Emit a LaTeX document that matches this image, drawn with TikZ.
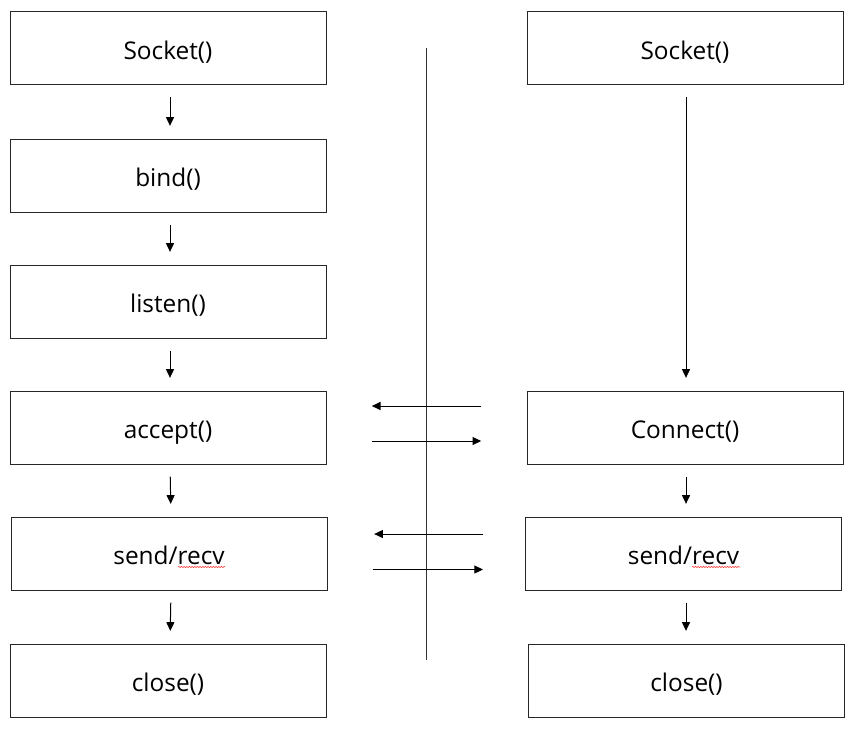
\documentclass[tikz,border=0pt]{standalone}
\usepackage{fontspec}
\setmainfont{Open Sans}
\usetikzlibrary{arrows.meta,calc,decorations.pathmorphing}
\begin{document}
\begin{tikzpicture}[x=0.75pt,y=-0.75pt,
  box/.style={draw=black!85,line width=0.75pt,minimum width=237pt,minimum height=54.75pt,inner sep=0pt,text height=18pt,text depth=1.5pt,font=\fontsize{18.3}{21}\selectfont},
  arr/.style={line width=0.75pt,-{Triangle[length=6.5pt,width=6pt]}},
  vgap/.style={shorten <=9pt,shorten >=9.5pt},
  hgap/.style={shorten <=34pt,shorten >=34pt},
  squig/.style={red!80,line width=0.4pt,decorate,decoration={snake,amplitude=0.5pt,segment length=2pt}}]
\useasboundingbox (0,0) rectangle (860,733);
\node[box] (ls) at (168,48) {Socket()};
\node[box] (lb) at (168,175.5) {bind()};
\node[box] (ll) at (168,301.5) {listen()};
\node[box] (la) at (168,427.5) {accept()};
\node[box] (lr) at (169,553.5) {send/recv};
\node[box] (lc) at (168,680.5) {close()};
\node[box] (rs) at (685,48) {Socket()};
\node[box] (rc) at (685,427.5) {Connect()};
\node[box] (rr) at (683.5,553.5) {send/recv};
\node[box] (rx) at (686.5,680.5) {close()};
\coordinate (mt) at (426,48);
\coordinate (mb) at (426,660);
\draw[black!80,line width=0.75pt] (mt) -- (mb);
\foreach \a/\b in {ls/lb,lb/ll,ll/la,la/lr,lr/lc}{
  \draw[arr,vgap] ($(\a.south)+(2,0)$) -- ($(\b.north)+(2,0)$);
}
\draw[arr,vgap] ($(rs.south)+(1,0)$) -- ($(rc.north)+(1,0)$);
\draw[arr,vgap] ($(rc.south)+(1,0)$) -- ($(rr.north)+(2.5,0)$);
\draw[arr,vgap] ($(rr.south)+(2.5,0)$) -- ($(rx.north)+(-0.5,0)$);
\draw[arr,hgap] ($(rc.west)+(0,-21.5)$) -- ($(la.east)+(0,-21.5)$);
\draw[arr,hgap] ($(la.east)+(0,13.5)$) -- ($(rc.west)+(0,13.5)$);
\draw[arr,shorten <=31.5pt,shorten >=35pt] ($(rr.west)+(0,-19.5)$) -- ($(lr.east)+(0,-19.5)$);
\draw[arr,shorten <=33.75pt,shorten >=31.5pt] ($(lr.east)+(0,16)$) -- ($(rr.west)+(0,16)$);
\draw[squig] (178,567) -- (225,567);
\draw[squig] (692,567) -- (740,567);
\end{tikzpicture}
\end{document}
